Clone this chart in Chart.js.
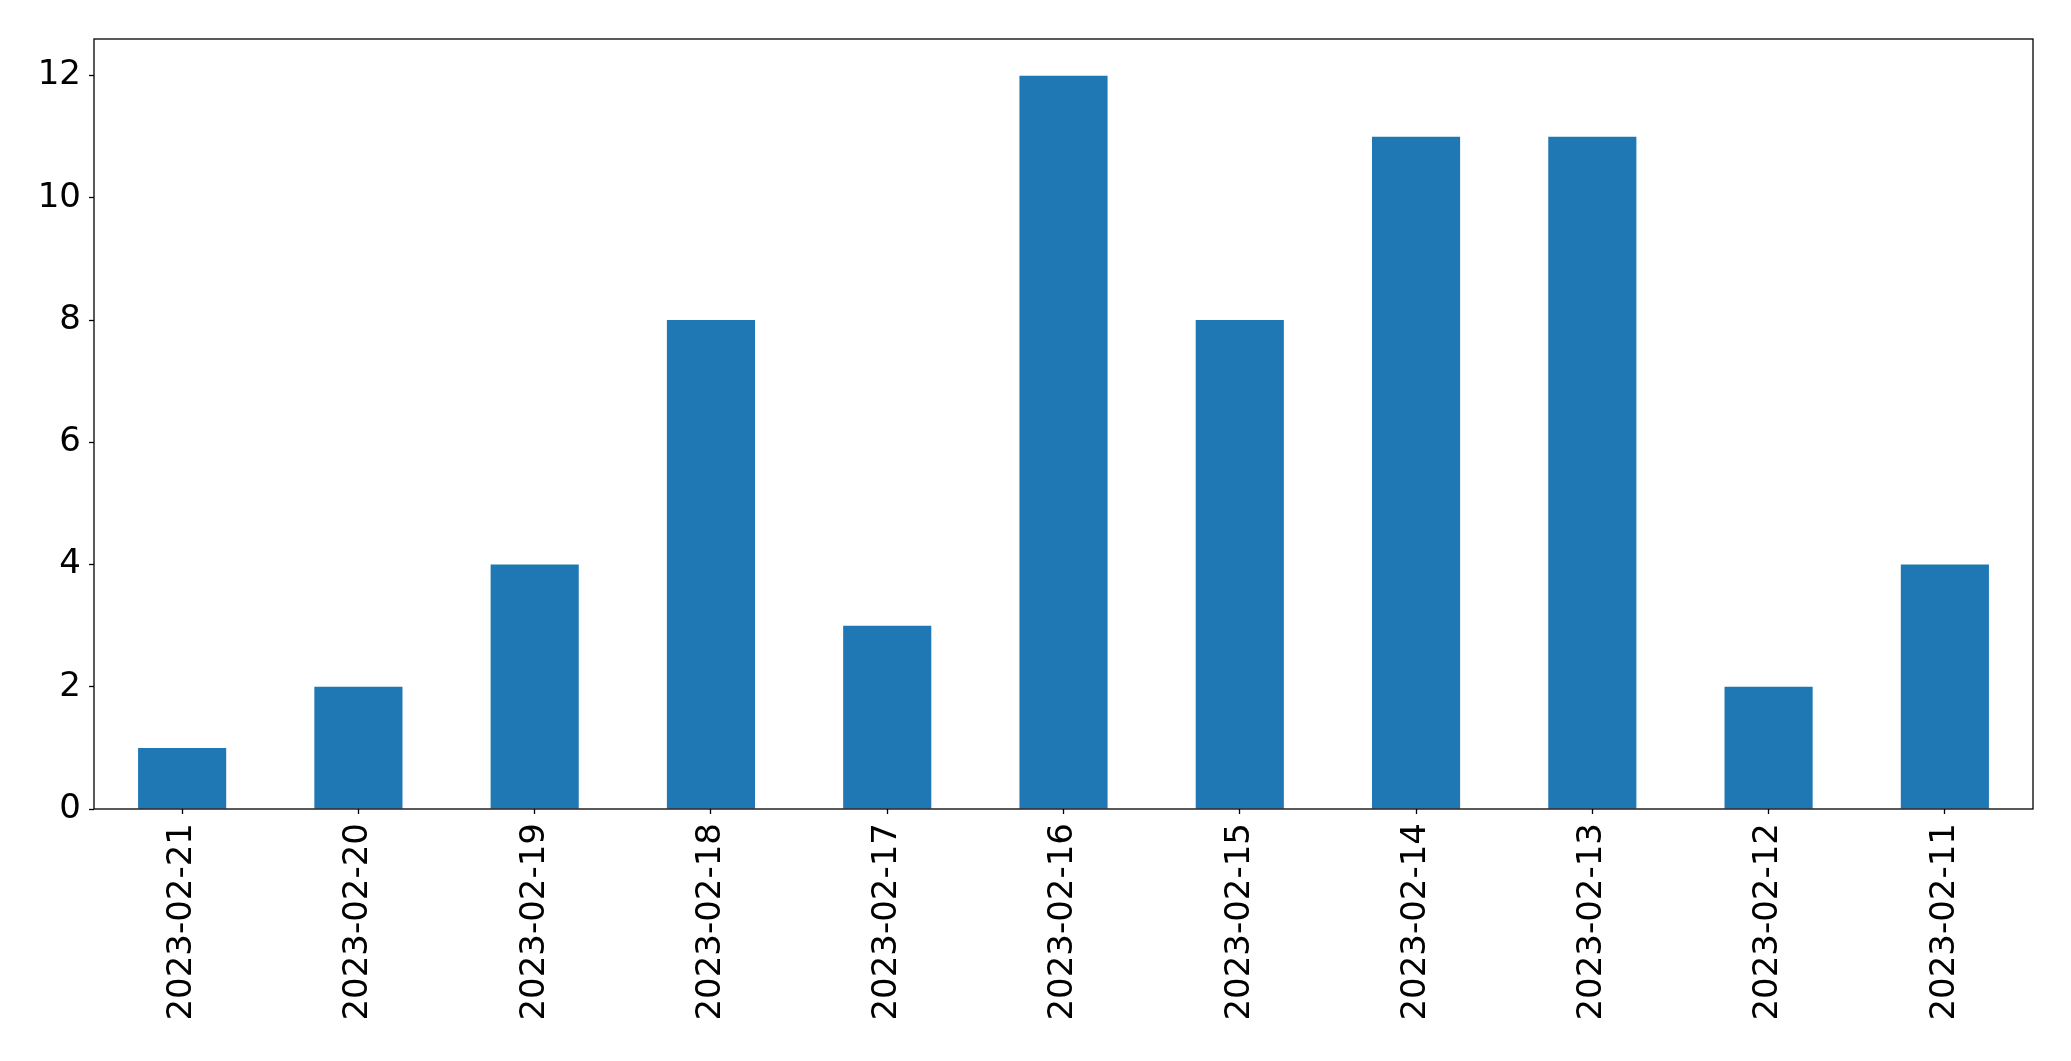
<!DOCTYPE html>
<html>
<head>
<meta charset="utf-8">
<script src="https://cdn.jsdelivr.net/npm/chart.js@4/dist/chart.umd.min.js"></script>
<style>
html,body{margin:0;padding:0;background:#fff;}
#wrap{width:2071px;height:1061px;position:relative;}
</style>
</head>
<body>
<div id="wrap"><canvas id="c" width="2071" height="1061"></canvas></div>
<script>
const categories = ["2023-02-21","2023-02-20","2023-02-19","2023-02-18","2023-02-17","2023-02-16","2023-02-15","2023-02-14","2023-02-13","2023-02-12","2023-02-11"];
const counts = [1,2,4,8,3,12,8,11,11,2,4];
const yTicks = [0,2,4,6,8,10,12];
const yMax = 12.6;

const frame = {
  id: 'frame',
  afterDraw(chart) {
    const a = chart.chartArea, ctx = chart.ctx;
    ctx.save();
    ctx.strokeStyle = '#000';
    ctx.lineWidth = 1.3;
    ctx.strokeRect(a.left, a.top, a.right - a.left, a.bottom - a.top);
    ctx.restore();
  }
};

new Chart(document.getElementById('c'), {
  type: 'bar',
  data: {
    labels: categories,
    datasets: [{
      data: counts,
      backgroundColor: '#1f77b4',
      borderWidth: 0,
      barPercentage: 0.5,
      categoryPercentage: 1.0
    }]
  },
  options: {
    responsive: false,
    animation: false,
    layout: { padding: { left: 0, top: 39, right: 38, bottom: 0 } },
    plugins: { legend: { display: false }, tooltip: { enabled: false } },
    scales: {
      x: {
        offset: true,
        grid: { display: true, offset: false, drawOnChartArea: false, drawTicks: true, tickLength: 5, tickColor: '#000', tickWidth: 1.3 },
        border: { display: false },
        ticks: { color: '#000', font: { family: 'DejaVu Sans', size: 34 }, maxRotation: 90, minRotation: 90, padding: 9, autoSkip: false },
        afterFit(s) { s.height = 252; }
      },
      y: {
        min: 0,
        max: yMax,
        grid: { display: true, drawOnChartArea: false, drawTicks: true, tickLength: 5, tickColor: '#000', tickWidth: 1.3 },
        border: { display: false },
        ticks: { color: '#000', font: { family: 'DejaVu Sans', size: 34 }, padding: 8 },
        afterBuildTicks(s) { s.ticks = yTicks.map(v => ({ value: v })); },
        afterFit(s) { s.width = 94; }
      }
    }
  },
  plugins: [frame]
});
</script>
</body>
</html>
